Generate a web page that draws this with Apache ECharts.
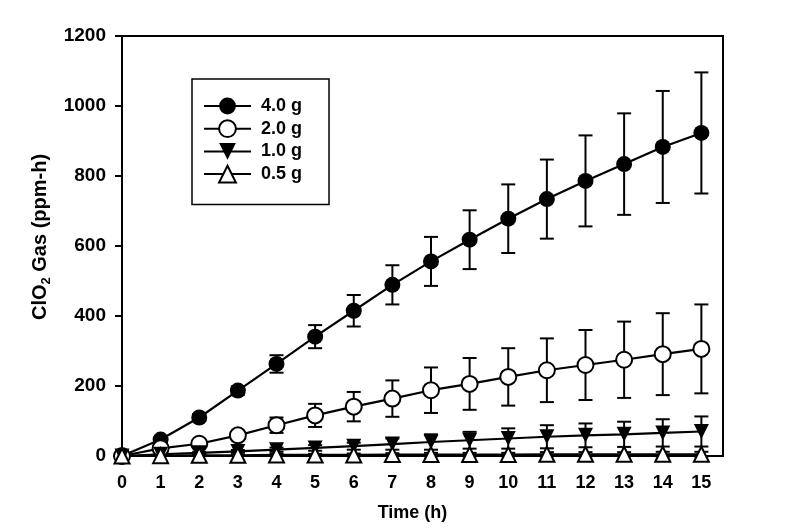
<!DOCTYPE html>
<html>
<head>
<meta charset="utf-8">
<script src="https://cdn.jsdelivr.net/npm/echarts@6/dist/echarts.min.js"></script>
<style>html,body{margin:0;padding:0;background:#fff}#c{width:800px;height:530px}</style>
</head>
<body>
<div id="c"></div>
<script>
const hours = [0,1,2,3,4,5,6,7,8,9,10,11,12,13,14,15];
const yTicks = [0,200,400,600,800,1000,1200];
const names = ['4.0 g','2.0 g','1.0 g','0.5 g'];
const g40 = [0, 47, 110, 187, 263, 341, 415, 489, 556, 618, 678, 734, 786, 834, 883, 923];
const g40err = [0, 6, 10, 12, 25, 33, 45, 56, 70, 84, 98, 113, 130, 145, 160, 173];
const g20 = [0, 22, 35, 59, 88, 116, 141, 164, 188, 206, 226, 245, 260, 275, 291, 306];
const g20err = [0, 4, 8, 12, 22, 33, 42, 52, 65, 74, 82, 91, 100, 109, 117, 127];
const g10 = [0, 5, 9, 13, 18, 23, 28, 34, 40, 45, 50, 55, 59, 62, 66, 70];
const g10err = [0, 2, 3, 4, 6, 8, 10, 16, 22, 24, 29, 33, 34, 36, 39, 43];
const g05 = [0, 1, 2, 2, 3, 3, 3, 4, 4, 4, 4, 5, 5, 5, 5, 5];
const g05err = [0, 1, 2, 2, 3, 3, 4, 4, 5, 5, 5, 6, 6, 6, 7, 7];

const FONT = '"Liberation Sans", Arial, sans-serif';
const chart = echarts.init(document.getElementById('c'), null, {renderer: 'canvas'});

function pts(vals) { return hours.map((h, i) => [h, vals[i]]); }
function errPts(vals, errs) { return hours.map((h, i) => [h, vals[i], errs[i]]); }

function errSeries(name, vals, errs) {
  return {
    type: 'custom', name: name, z: 1, silent: true,
    encode: {x: 0, y: 1},
    data: errPts(vals, errs),
    renderItem: function (params, api) {
      const x = api.value(0), y = api.value(1), e = api.value(2);
      if (!e) return null;
      const hi = api.coord([x, y + e]);
      const lo = api.coord([x, y - e]);
      const w = 7;
      const st = {stroke: '#000', lineWidth: 2};
      return {type: 'group', children: [
        {type: 'line', shape: {x1: hi[0], y1: hi[1], x2: lo[0], y2: lo[1]}, style: st},
        {type: 'line', shape: {x1: hi[0] - w, y1: hi[1], x2: hi[0] + w, y2: hi[1]}, style: st},
        {type: 'line', shape: {x1: lo[0] - w, y1: lo[1], x2: lo[0] + w, y2: lo[1]}, style: st}
      ]};
    }
  };
}

function lineSeries(name, vals, symbol, fill, rotate) {
  return {
    type: 'line', name: name, z: 3, clip: false,
    data: pts(vals),
    symbol: symbol, symbolSize: symbol === 'circle' ? 16 : 15,
    symbolRotate: rotate || 0,
    showAllSymbol: true,
    lineStyle: {color: '#000', width: 2.2},
    itemStyle: {color: fill, borderColor: '#000', borderWidth: fill === '#fff' ? 2 : 0},
    emphasis: {disabled: true},
    animation: false
  };
}

const option = {
  animation: false,
  backgroundColor: '#fff',
  grid: {left: 122, right: 77, top: 36, bottom: 74, show: true, borderColor: '#000', borderWidth: 2, backgroundColor: 'transparent'},
  legend: {
    data: names,
    orient: 'vertical',
    left: 192, top: 79,
    padding: [18, 27, 21, 11],
    itemWidth: 47, itemHeight: 21, itemGap: 4.3,
    borderColor: '#000', borderWidth: 1.5,
    textStyle: {fontFamily: FONT, fontWeight: 'bold', fontSize: 18, color: '#000', padding: [0, 0, 0, 5]},
    selectedMode: false
  },
  xAxis: {
    type: 'value', min: 0, max: 15.56, interval: 1,
    name: 'Time (h)', nameLocation: 'middle', nameGap: 48,
    nameTextStyle: {fontFamily: FONT, fontWeight: 'bold', fontSize: 18, color: '#000', padding: [0, 20, 0, 0]},
    axisLine: {lineStyle: {color: '#000', width: 2}},
    axisTick: {show: true, length: 5, lineStyle: {color: '#000', width: 2}, customValues: hours},
    axisLabel: {fontFamily: FONT, fontWeight: 'bold', fontSize: 18, color: '#000', margin: 18, customValues: hours},
    splitLine: {show: false}
  },
  yAxis: {
    type: 'value', min: 0, max: 1200, interval: 200,
    name: '{a|ClO}{s|2}{a| Gas (ppm-h)}', nameLocation: 'middle', nameGap: 62,
    nameTextStyle: {
      padding: [0, 0, 0, 18],
      rich: {
        a: {fontFamily: FONT, fontWeight: 'bold', fontSize: 20, color: '#000', lineHeight: 24},
        s: {fontFamily: FONT, fontWeight: 'bold', fontSize: 13, color: '#000', lineHeight: 12, verticalAlign: 'bottom'}
      }
    },
    axisLine: {lineStyle: {color: '#000', width: 2}},
    axisTick: {show: true, length: 7, lineStyle: {color: '#000', width: 2}, customValues: yTicks},
    axisLabel: {fontFamily: FONT, fontWeight: 'bold', fontSize: 19, color: '#000', margin: 16, customValues: yTicks,
      formatter: function (v) { return String(v); }},
    splitLine: {show: false}
  },
  series: [
    errSeries('e40', g40, g40err),
    errSeries('e20', g20, g20err),
    errSeries('e10', g10, g10err),
    errSeries('e05', g05, g05err),
    lineSeries(names[0], g40, 'circle', '#000'),
    lineSeries(names[1], g20, 'circle', '#fff'),
    lineSeries(names[2], g10, 'triangle', '#000', 180),
    lineSeries(names[3], g05, 'triangle', '#fff')
  ]
};
chart.setOption(option);
</script>
</body>
</html>
